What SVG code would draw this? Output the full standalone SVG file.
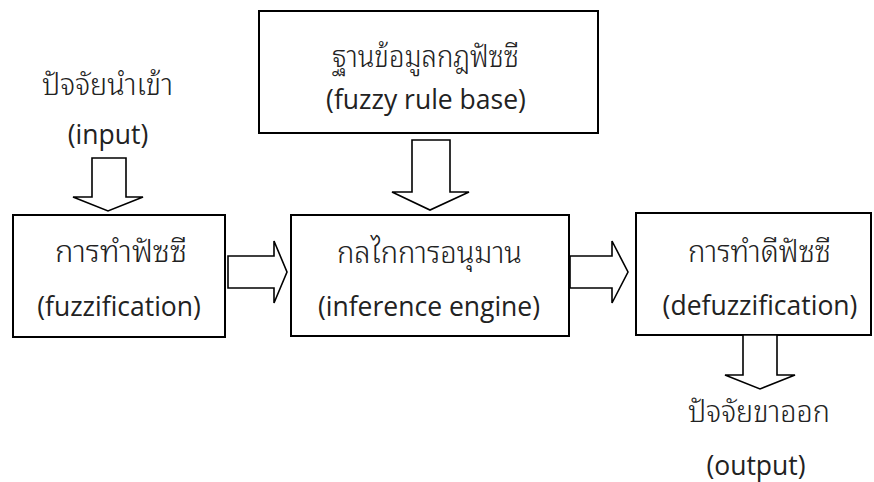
<svg xmlns="http://www.w3.org/2000/svg" width="874" height="482" viewBox="0 0 874 482">
<style>
.box{fill:#fff;stroke:#000;stroke-width:2}
.arr{fill:#fff;stroke:#000;stroke-width:1.6;stroke-linejoin:miter}
text{font-family:"Open Sans","Noto Sans Thai","Noto Sans",sans-serif;font-size:26.5px;fill:#222;text-anchor:middle}
text.th{font-family:"Noto Sans Thai Looped","Noto Sans Thai","Open Sans",sans-serif;font-size:30px;font-weight:300}
</style>
<rect width="874" height="482" fill="#fff"/>
<g id="input-label">
<text class="th" x="107.5" y="95" textLength="131" lengthAdjust="spacingAndGlyphs">ปัจจัยนำเข้า</text>
<text x="108" y="144">(input)</text>
</g>
<g id="rule-base">
<rect class="box" x="259" y="11" width="339" height="122"/>
<text class="th" x="425.5" y="67" textLength="187" lengthAdjust="spacingAndGlyphs">ฐานข้อมูลกฎฟัซซี</text>
<text x="426" y="109">(fuzzy rule base)</text>
</g>
<g id="fuzzification">
<rect class="box" x="13" y="215" width="212" height="122"/>
<text class="th" x="121" y="262" textLength="132" lengthAdjust="spacingAndGlyphs">การทำฟัซซี</text>
<text x="119" y="316">(fuzzification)</text>
</g>
<g id="inference">
<rect class="box" x="291" y="215" width="278" height="121"/>
<text class="th" x="429.5" y="263" textLength="185" lengthAdjust="spacingAndGlyphs">กลไกการอนุมาน</text>
<text x="429" y="316">(inference engine)</text>
</g>
<g id="defuzzification">
<rect class="box" x="636" y="213" width="235" height="122"/>
<text class="th" x="759.5" y="262" textLength="143" lengthAdjust="spacingAndGlyphs">การทำดีฟัซซี</text>
<text x="760" y="315">(defuzzification)</text>
</g>
<g id="output-label">
<text class="th" x="759" y="422" textLength="142" lengthAdjust="spacingAndGlyphs">ปัจจัยขาออก</text>
<text x="756" y="475">(output)</text>
</g>
<g id="connectors">
<polygon class="arr" points="92,158 126,158 126,197 143,197 108,211 73,197 92,197"/>
<polygon class="arr" points="412,140 450,140 450,192 469,192 430,210 392,192 412,192"/>
<polygon class="arr" points="228,256 274,256 274,241 287,272 274,303 274,288 228,288"/>
<polygon class="arr" points="570,256 612,256 612,241 628,272 612,303 612,288 570,288"/>
<polygon class="arr" points="743,335 777,335 777,375 795,375 760,389 725,375 743,375"/>
</g>
</svg>
